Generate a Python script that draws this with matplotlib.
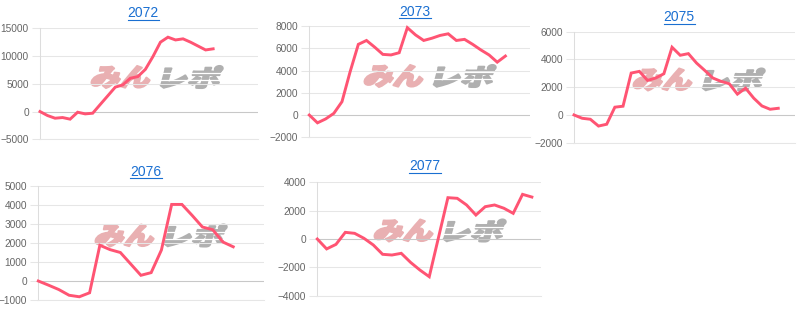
import matplotlib
matplotlib.use("Agg")
import matplotlib.pyplot as plt
import matplotlib.transforms as mtransforms
import numpy as np
from matplotlib.textpath import TextPath
from matplotlib.font_manager import FontProperties
from matplotlib.patches import PathPatch
from matplotlib.lines import Line2D

plt.rcParams['font.family'] = ['Liberation Sans', 'DejaVu Sans']

# ---------------- data ----------------
titles = ["2072", "2073", "2075", "2076", "2077"]

# number of category labels (days) on each x axis
day_counts = [30, 28, 28, 23, 25]

series_2072 = [0, -720, -1200, -1080, -1370, -120, -420, -300, 1270, 2830,
               4400, 4800, 6000, 6300, 7600, 9900, 12500, 13400, 12900, 13100,
               12500, 11800, 11100, 11300]
series_2073 = [0, -700, -350, 150, 1200, 3900, 6350, 6700, 6100, 5450,
               5400, 5600, 7850, 7200, 6700, 6900, 7150, 7300, 6700, 6800,
               6350, 5850, 5400, 4750, 5300]
series_2075 = [0, -240, -310, -800, -670, 560, 630, 3020, 3140, 2490,
               2660, 2970, 4880, 4300, 4420, 3740, 3210, 2660, 2420, 2250,
               1500, 1930, 1210, 650, 410, 480]
series_2076 = [0, -220, -450, -750, -830, -620, 1880, 1650, 1500, 900,
               300, 440, 1630, 4030, 4030, 3450, 2840, 2700, 2050, 1800]
series_2077 = [0, -700, -380, 470, 400, 50, -420, -1080, -1130, -1010,
               -1650, -2190, -2660, 130, 2915, 2870, 2400, 1690, 2280, 2400,
               2170, 1810, 3150, 2960]

all_series = [series_2072, series_2073, series_2075, series_2076, series_2077]

# y axis: min, max, step
y_axes = [(-5000, 15000, 5000), (-2000, 8000, 2000), (-2000, 6000, 2000),
          (-1000, 5000, 1000), (-4000, 4000, 2000)]

# ---------------- layout (pixels) ----------------
W, H = 800, 312
plot_boxes = [(40, 28.3, 258.3, 139.3), (309.3, 26, 529.9, 137.3),
              (574, 31.7, 794.6, 142.7), (38.3, 186, 264, 300),
              (317.3, 182.3, 541.2, 295.7)]
title_pos = [(143.3, 13.3), (415, 11.7), (679.3, 17.3), (146, 171.7), (425, 166)]
logo_pos = [(156, 77), (429, 76), (698, 79.5), (160, 235.5), (439, 230.5)]

line_color = "#ff5473"
link_color = "#1a6fd1"
grid_color = "#e6e6e6"

fig = plt.figure(figsize=(8, 3.12), dpi=100)
px = mtransforms.Affine2D().scale(1 / 100) + fig.dpi_scale_trans

# ---------------- watermark ----------------
fp_logo = FontProperties(family=['Noto Sans CJK JP'], weight='black')


def draw_logo(cx, cy):
    half_w, h = 66, 24
    parts = [("みん", "#e9b0b2", cx - 67), ("レポ", "#b0b0b0", cx + 3)]
    for txt, col, x0 in parts:
        tp = TextPath((0, 0), txt, size=100, prop=fp_logo)
        ext = tp.get_extents()
        shear = h * np.tan(np.radians(15))
        tr = (mtransforms.Affine2D()
              .translate(-ext.x0, -ext.y0)
              .scale((half_w - shear - 2) / ext.width, (h - 2) / ext.height)
              .skew_deg(15, 0)
              .translate(x0 + 1, H - cy - h / 2 + 1)) + px
        fig.add_artist(PathPatch(tp, transform=tr, fc=col, ec=col, lw=1.5,
                                 joinstyle="round", zorder=-1))
    # speed stripes on the right half
    for f in (0.36, 0.66):
        yy = H - cy - h / 2 + h * f
        fig.add_artist(Line2D([cx + 2, cx + 72], [yy, yy], color="white",
                              lw=0.9, transform=px, zorder=-0.9))


for (cx, cy) in logo_pos:
    draw_logo(cx, cy)

# ---------------- charts ----------------
title_texts = []
for i in range(5):
    l, t, r, b = plot_boxes[i]
    ax = fig.add_axes([l / W, 1 - b / H, (r - l) / W, (b - t) / H])
    ax.set_facecolor("none")
    vals = all_series[i]
    lo, hi, step = y_axes[i]

    ax.plot(range(len(vals)), vals, color=line_color, lw=2.1,
            solid_joinstyle="miter", zorder=3, clip_on=False)
    ax.set_xlim(0, day_counts[i] - 1)
    ax.set_ylim(lo, hi)
    ax.set_yticks(np.arange(lo, hi + 1, step))
    ax.set_xticks([])
    ax.grid(axis="y", color=grid_color, lw=0.75)
    ax.axhline(0, color="#c8c8c8", lw=0.75, zorder=2)
    for s in ("top", "right"):
        ax.spines[s].set_visible(False)
    ax.spines["left"].set_color("#dddddd")
    ax.spines["bottom"].set_color(grid_color)
    ax.spines["left"].set_linewidth(0.75)
    ax.spines["bottom"].set_linewidth(0.75)
    ax.tick_params(axis="y", length=6, width=0.75, color=grid_color,
                   labelsize=7.3, labelcolor="#666666", pad=2)

    tx, ty = title_pos[i]
    title_texts.append(fig.text(tx / W, 1 - ty / H, titles[i], ha="center",
                                va="center", color=link_color, fontsize=10))

# underline the titles like links
fig.canvas.draw()
for txt, (tx, ty) in zip(title_texts, title_pos):
    bb = txt.get_window_extent()
    yy = H - (ty + 6.5)
    fig.add_artist(Line2D([bb.x0, bb.x1], [yy, yy], color=link_color,
                          lw=0.8, transform=px))

fig.savefig("out.png", dpi=100)
